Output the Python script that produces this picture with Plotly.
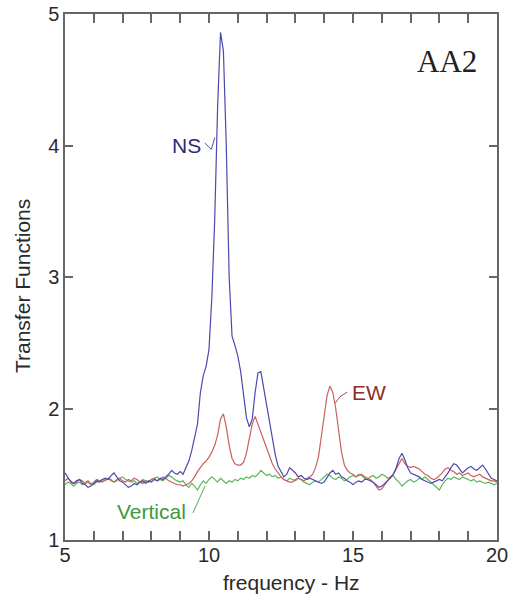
import plotly.graph_objects as go

# frequency grid (Hz), 0.1 Hz sampling from 5 to 20
freq = [round(5 + 0.1 * i, 1) for i in range(151)]

ns = [1.51, 1.47, 1.44, 1.43, 1.45, 1.46, 1.43, 1.42, 1.40, 1.41,
      1.43, 1.45, 1.44, 1.46, 1.47, 1.46, 1.49, 1.51, 1.48, 1.45,
      1.44, 1.42, 1.40, 1.41, 1.43, 1.42, 1.44, 1.45, 1.43, 1.45,
      1.44, 1.46, 1.45, 1.47, 1.46, 1.48, 1.50, 1.53, 1.51, 1.50,
      1.52, 1.50, 1.55, 1.60, 1.68, 1.78, 1.88, 2.12, 2.25, 2.32,
      2.45, 2.85, 3.45, 4.30, 4.86, 4.72, 4.00, 3.00, 2.55, 2.48,
      2.40, 2.28, 2.10, 1.93, 1.86, 1.92, 2.12, 2.27, 2.28, 2.15,
      2.05, 1.90, 1.77, 1.65, 1.56, 1.52, 1.48, 1.50, 1.55, 1.53,
      1.51, 1.48, 1.49, 1.47, 1.46, 1.47, 1.46, 1.45, 1.44, 1.43,
      1.44, 1.48, 1.51, 1.53, 1.50, 1.51, 1.48, 1.47, 1.45, 1.44,
      1.42, 1.44, 1.45, 1.44, 1.46, 1.46, 1.45, 1.44, 1.42, 1.40,
      1.41, 1.43, 1.45, 1.47, 1.50, 1.55, 1.62, 1.66, 1.61, 1.55,
      1.51, 1.50, 1.49, 1.48, 1.46, 1.45, 1.44, 1.43, 1.44, 1.45,
      1.46, 1.45, 1.48, 1.51, 1.55, 1.58, 1.57, 1.54, 1.51, 1.53,
      1.55, 1.56, 1.54, 1.53, 1.55, 1.57, 1.54, 1.50, 1.47, 1.46,
      1.45]

ew = [1.45, 1.47, 1.45, 1.43, 1.44, 1.46, 1.45, 1.43, 1.44, 1.42,
      1.44, 1.46, 1.45, 1.44, 1.46, 1.47, 1.45, 1.44, 1.46, 1.47,
      1.45, 1.44, 1.46, 1.45, 1.47, 1.46, 1.44, 1.43, 1.45, 1.44,
      1.46, 1.47, 1.45, 1.46, 1.48, 1.47, 1.45, 1.44, 1.43, 1.42,
      1.42, 1.41, 1.42, 1.43, 1.45, 1.48, 1.52, 1.55, 1.58, 1.60,
      1.63, 1.67, 1.72, 1.80, 1.92, 1.96, 1.86, 1.72, 1.62, 1.58,
      1.57, 1.57, 1.59, 1.66, 1.78, 1.88, 1.94, 1.88, 1.82, 1.76,
      1.70, 1.64, 1.58, 1.54, 1.51, 1.48, 1.46, 1.45, 1.44, 1.44,
      1.46, 1.47, 1.46, 1.45, 1.47, 1.48, 1.50, 1.55, 1.63, 1.78,
      1.95, 2.10, 2.17, 2.12, 2.00, 1.84, 1.67, 1.57, 1.53, 1.51,
      1.50, 1.48, 1.49, 1.50, 1.48, 1.47, 1.46, 1.44, 1.41, 1.38,
      1.39, 1.42, 1.45, 1.48, 1.50, 1.54, 1.59, 1.62, 1.58, 1.56,
      1.55, 1.56, 1.55, 1.54, 1.52, 1.50, 1.49, 1.47, 1.46, 1.47,
      1.49, 1.51, 1.54, 1.55, 1.53, 1.52, 1.50, 1.51, 1.49, 1.50,
      1.51, 1.49, 1.48, 1.49, 1.50, 1.48, 1.47, 1.46, 1.45, 1.45,
      1.44]

vertical = [1.42, 1.44, 1.43, 1.41, 1.43, 1.44, 1.42, 1.44, 1.45, 1.43,
            1.42, 1.44, 1.45, 1.46, 1.45, 1.47, 1.46, 1.44, 1.45, 1.47,
            1.48, 1.46, 1.45, 1.44, 1.45, 1.43, 1.44, 1.46, 1.45, 1.44,
            1.46, 1.47, 1.48, 1.46, 1.45, 1.47, 1.49, 1.48, 1.46, 1.45,
            1.44, 1.45, 1.42, 1.40, 1.43, 1.41, 1.38, 1.42, 1.45, 1.43,
            1.46, 1.48, 1.46, 1.44, 1.47, 1.45, 1.43, 1.45, 1.44, 1.46,
            1.45, 1.47, 1.46, 1.48, 1.47, 1.49, 1.48, 1.50, 1.53, 1.51,
            1.49, 1.50, 1.48, 1.49, 1.47, 1.48, 1.46, 1.45, 1.47, 1.46,
            1.45, 1.47, 1.46, 1.44, 1.43, 1.42, 1.44, 1.45, 1.44, 1.46,
            1.48, 1.50, 1.49, 1.47, 1.46, 1.48, 1.47, 1.45, 1.46, 1.48,
            1.49, 1.48, 1.50, 1.49, 1.47, 1.46, 1.48, 1.49, 1.47, 1.48,
            1.50, 1.49, 1.47, 1.48, 1.49, 1.46, 1.44, 1.41, 1.43, 1.45,
            1.46, 1.44, 1.45, 1.47, 1.46, 1.48, 1.46, 1.44, 1.42, 1.40,
            1.38, 1.42, 1.45, 1.47, 1.46, 1.48, 1.47, 1.46, 1.48, 1.47,
            1.46, 1.45, 1.46, 1.44, 1.45, 1.44, 1.43, 1.44, 1.43, 1.42,
            1.43]

x_ticks = [5, 10, 15, 20]
y_ticks = [1, 2, 3, 4, 5]

FONT = "Liberation Sans, Arial, sans-serif"
TXT = "#2a2a2a"
AX = "#666666"

fig = go.Figure()
fig.add_trace(go.Scatter(x=freq, y=vertical, mode="lines", name="Vertical",
                         line=dict(color="#5cb85c", width=1.2)))
fig.add_trace(go.Scatter(x=freq, y=ew, mode="lines", name="EW",
                         line=dict(color="#c9605e", width=1.2)))
fig.add_trace(go.Scatter(x=freq, y=ns, mode="lines", name="NS",
                         line=dict(color="#4a4aae", width=1.2)))

axis_common = dict(showline=True, linecolor=AX, linewidth=1.5, mirror="allticks",
                   ticks="inside", tickcolor=AX, tickwidth=1.5, showgrid=False,
                   zeroline=False, automargin=False, ticklabeloverflow="allow",
                   tickfont=dict(family=FONT, size=20, color=TXT))

fig.update_xaxes(range=[5, 20], tickvals=x_ticks, ticklen=9, ticklabelstandoff=-4,
                 minor=dict(dtick=1, tick0=5, ticks="inside", ticklen=9,
                            tickcolor=AX, tickwidth=1.5, showgrid=False),
                 **axis_common)
fig.update_yaxes(range=[1, 5], tickvals=y_ticks, ticklen=8,
                 **axis_common)

# axis titles
fig.add_annotation(xref="paper", yref="paper", x=0.525, y=-0.08, xanchor="center", yanchor="middle",
                   text="frequency - Hz", showarrow=False, font=dict(family=FONT, size=21, color=TXT))
fig.add_annotation(xref="paper", yref="paper", x=-0.097, y=0.483, xanchor="center", yanchor="middle",
                   text="Transfer Functions", textangle=-90, showarrow=False,
                   font=dict(family=FONT, size=21, color=TXT))

fig.add_annotation(x=18.26, y=4.64, text="AA2", showarrow=False,
                   font=dict(family="Liberation Serif, Times New Roman, serif", size=31, color="#222222"))
fig.add_annotation(x=9.22, y=4.0, text="NS", showarrow=False,
                   font=dict(family=FONT, size=21, color="#2b2b7c"))
fig.add_annotation(x=15.56, y=2.125, text="EW", showarrow=False,
                   font=dict(family=FONT, size=21, color="#8e2b2b"))
fig.add_annotation(x=8.02, y=1.213, text="Vertical", showarrow=False,
                   font=dict(family=FONT, size=21, color="#3c9a3c"))

# leader lines from labels to curves
fig.add_shape(type="path", xref="x", yref="y", path="M 9.85 4.02 L 10.08 3.97 L 10.2 4.06",
              line=dict(color="#555588", width=1))
fig.add_shape(type="path", xref="x", yref="y", path="M 14.8 2.125 L 14.55 2.09 L 14.38 2.04",
              line=dict(color="#a05050", width=1))
fig.add_shape(type="line", xref="x", yref="y", x0=9.44, y0=1.205, x1=9.86, y1=1.41,
              line=dict(color="#5aa85a", width=1))

fig.update_layout(width=512, height=596, margin=dict(l=65, r=15, t=14, b=56),
                  paper_bgcolor="white", plot_bgcolor="white", showlegend=False,
                  font=dict(family=FONT))

fig.write_html("out.html")
